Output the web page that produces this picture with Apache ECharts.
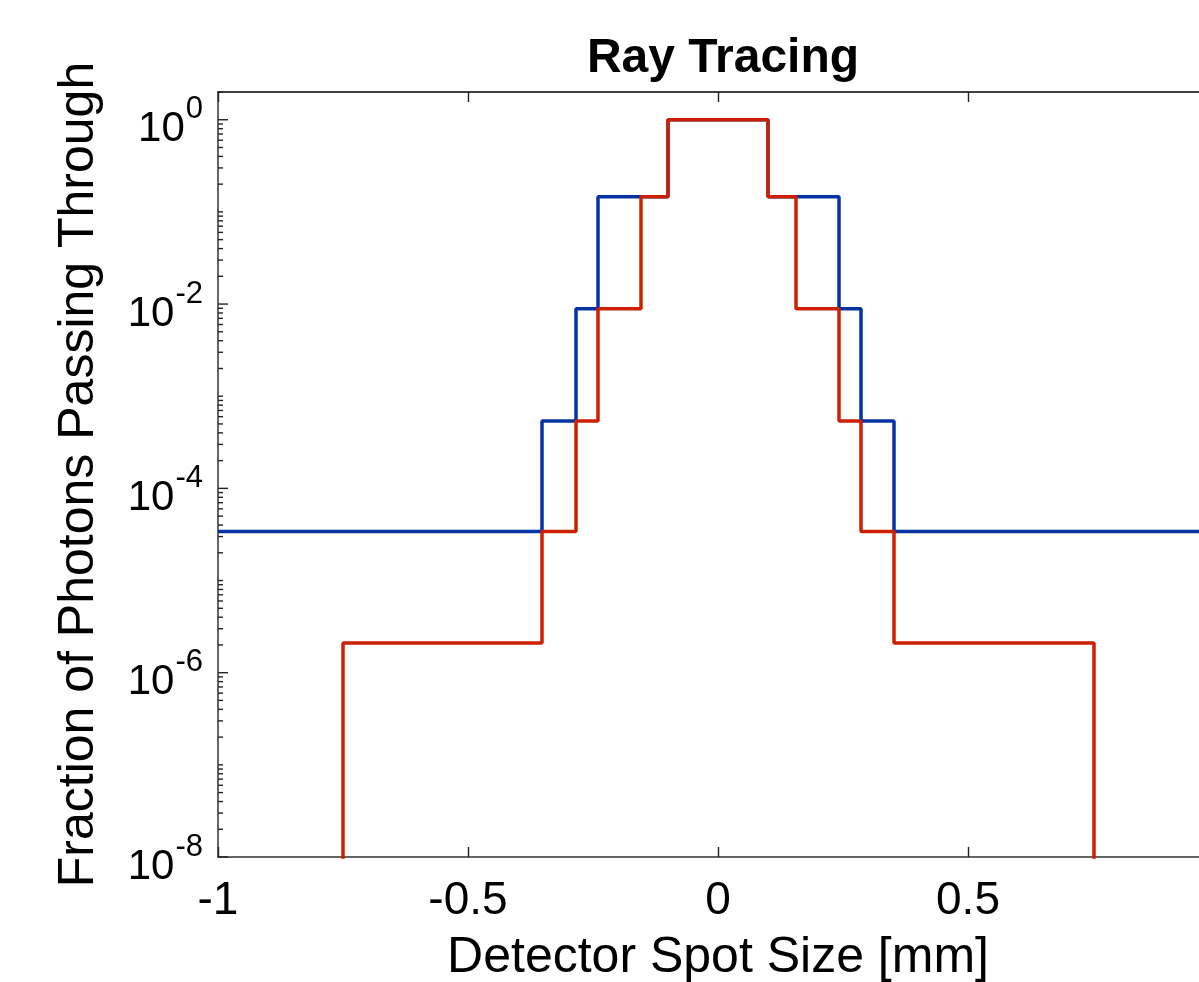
<!DOCTYPE html>
<html>
<head>
<meta charset="utf-8">
<title>Ray Tracing</title>
<script src="https://cdn.jsdelivr.net/npm/echarts@6/dist/echarts.min.js"></script>
<style>
  html, body { margin: 0; padding: 0; background: #fff; }
  #chart { width: 1199px; height: 982px; }
</style>
</head>
<body>
<div id="chart"></div>
<script>
// bin edges [mm] and the level held between each pair of edges
const blueEdges = [-1, -0.352, -0.284, -0.240, -0.100, 0.100, 0.242, 0.286, 0.352, 1];
const blueLevels = [3.4e-5, 5.4e-4, 8.9e-3, 0.146, 1, 0.146, 8.9e-3, 5.4e-4, 3.4e-5];

const redEdges = [-1, -0.750, -0.352, -0.284, -0.240, -0.154, -0.100, 0.100, 0.156, 0.242, 0.286, 0.352, 0.752, 1];
const redLevels = [1e-10, 2.1e-6, 3.4e-5, 5.4e-4, 8.9e-3, 0.146, 1, 0.146, 8.9e-3, 5.4e-4, 3.4e-5, 2.1e-6, 1e-10];

const xTicks = [-1, -0.5, 0, 0.5, 1];
const yDecades = [-8, -7, -6, -5, -4, -3, -2, -1, 0];

const FONT = '"Liberation Sans", Arial, Helvetica, sans-serif';

function stepPoints(edges, levels) {
  const pts = [];
  for (let i = 0; i < levels.length; i++) {
    pts.push([edges[i], levels[i]]);
  }
  pts.push([edges[edges.length - 1], levels[levels.length - 1]]);
  return pts;
}

// log ticks 1..9 x 10^k, drawn against the y scale
const yTickValues = [];
yDecades.forEach(function (k) {
  for (let m = 1; m <= 9; m++) {
    const v = m * Math.pow(10, k);
    if (v <= 2) yTickValues.push([-1, v]);
  }
});

const chart = echarts.init(document.getElementById('chart'), null, { renderer: 'canvas' });

const option = {
  animation: false,
  backgroundColor: '#fff',
  title: {
    text: 'Ray Tracing',
    left: 718,
    top: 30,
    textAlign: 'center',
    textStyle: {
      fontFamily: FONT,
      fontSize: 48,
      fontWeight: 'bold',
      color: '#000',
      lineHeight: 48
    }
  },
  grid: {
    left: 218,
    top: 92,
    width: 1000,
    height: 765,
    containLabel: false,
    outerBoundsMode: 'none'
  },
  xAxis: [
    {
      type: 'value',
      min: xTicks[0],
      max: xTicks[xTicks.length - 1],
      interval: 0.5,
      position: 'bottom',
      name: 'Detector Spot Size [mm]',
      nameLocation: 'middle',
      nameGap: 76,
      nameTextStyle: { fontFamily: FONT, fontSize: 50, color: '#000', lineHeight: 50 },
      axisLine: { onZero: false, lineStyle: { color: '#333', width: 1.5 } },
      axisTick: { inside: true, length: 10, lineStyle: { color: '#222', width: 1.4 } },
      axisLabel: {
        margin: 21,
        fontFamily: FONT,
        fontSize: 46,
        color: '#000'
      },
      splitLine: { show: false }
    },
    {
      type: 'value',
      min: xTicks[0],
      max: xTicks[xTicks.length - 1],
      interval: 0.5,
      position: 'top',
      axisLine: { onZero: false, lineStyle: { color: '#000', width: 1.5 } },
      axisTick: { inside: true, length: 10, lineStyle: { color: '#222', width: 1.4 } },
      axisLabel: { show: false },
      splitLine: { show: false }
    }
  ],
  yAxis: {
    type: 'log',
    logBase: 10,
    min: 1e-8,
    max: 2,
    name: 'Fraction of Photons Passing Through',
    nameLocation: 'middle',
    nameGap: 114,
    nameTextStyle: { fontFamily: FONT, fontSize: 50, color: '#000', lineHeight: 50 },
    axisLine: { show: true, onZero: false, lineStyle: { color: '#333', width: 1.5 } },
    axisTick: { show: false },
    splitLine: { show: false },
    axisLabel: {
      margin: 15,
      showMaxLabel: false,
      formatter: function (v) {
        const e = Math.log10(v);
        const k = Math.round(e);
        if (Math.abs(e - k) > 1e-6 || k % 2 !== 0) return '';
        return '{b|10}{s|' + k + '}';
      },
      rich: {
        b: { fontFamily: FONT, fontSize: 42, lineHeight: 42, color: '#000', padding: [20, 0, 0, 0] },
        s: { fontFamily: FONT, fontSize: 31, lineHeight: 31, color: '#000', padding: [0, 0, 20, 1] }
      }
    }
  },
  series: [
    {
      name: 'yticks',
      type: 'custom',
      silent: true,
      xAxisIndex: 0,
      data: yTickValues,
      encode: { x: 0, y: 1 },
      renderItem: function (params, api) {
        const v = api.value(1);
        const p = api.coord([api.value(0), v]);
        const e = Math.log10(v);
        const k = Math.round(e);
        const major = Math.abs(e - k) < 1e-9 && k % 2 === 0;
        const len = major ? 10 : 5;
        return {
          type: 'line',
          shape: { x1: p[0], y1: p[1], x2: p[0] + len, y2: p[1] },
          style: { stroke: '#222', lineWidth: 1.4 }
        };
      },
      z: 1
    },
    {
      name: 'blue',
      type: 'line',
      step: 'end',
      xAxisIndex: 0,
      data: stepPoints(blueEdges, blueLevels),
      showSymbol: false,
      clip: true,
      lineStyle: { color: '#0633a3', width: 3.5 },
      z: 2
    },
    {
      name: 'red',
      type: 'line',
      step: 'end',
      xAxisIndex: 0,
      data: stepPoints(redEdges, redLevels),
      showSymbol: false,
      clip: true,
      lineStyle: { color: '#cc2000', width: 3.5 },
      z: 3
    }
  ]
};

chart.setOption(option);
</script>
</body>
</html>
